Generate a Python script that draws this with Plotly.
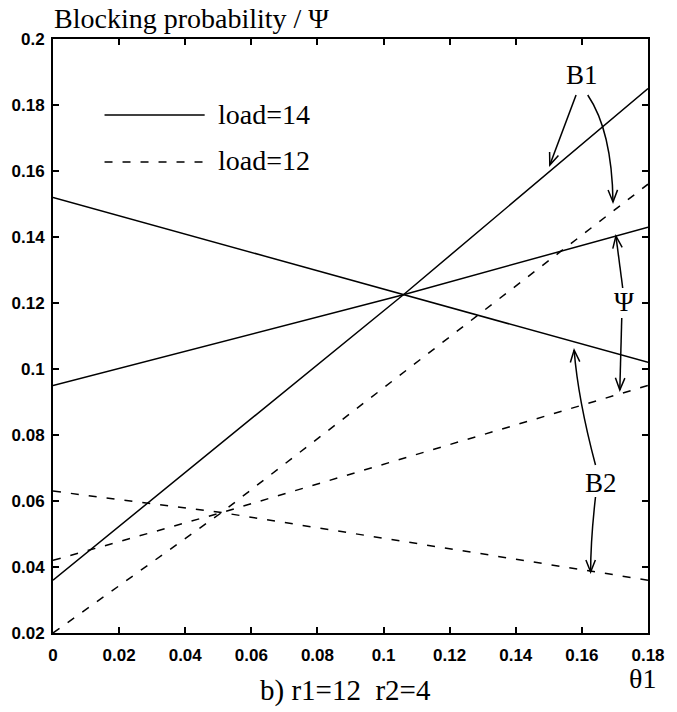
import math
import plotly.graph_objects as go

# ---- data ----
theta_14 = [0.0, 0.106, 0.18]
b1_14 = [0.036, 0.1225, 0.185]
b2_14 = [0.152, 0.1225, 0.102]
psi_14 = [0.095, 0.1225, 0.143]

theta_12 = [0.0, 0.051, 0.18]
b1_12 = [0.020, 0.0565, 0.156]
b2_12 = [0.063, 0.0565, 0.036]
psi_12 = [0.042, 0.0565, 0.095]

x_ticks = [0, 0.02, 0.04, 0.06, 0.08, 0.1, 0.12, 0.14, 0.16, 0.18]
x_ticktext = ["0", "0.02", "0.04", "0.06", "0.08", "0.1", "0.12", "0.14", "0.16", "0.18"]
y_ticks = [0.02, 0.04, 0.06, 0.08, 0.1, 0.12, 0.14, 0.16, 0.18, 0.2]
y_ticktext = ["0.02", "0.04", "0.06", "0.08", "0.1", "0.12", "0.14", "0.16", "0.18", "0.2"]

# ---- layout geometry ----
W, H = 677, 712
ML, MR, MT, MB = 44, 21, 39, 79
PW, PH = W - ML - MR, H - MT - MB
SERIF = "Liberation Serif, Times New Roman, serif"
SANS = "Liberation Sans, Arial, sans-serif"


def paper(px, py):
    return (px - ML) / PW, (H - MB - py) / PH


fig = go.Figure()
solid = dict(color="black", width=1.5)
dashed = dict(color="black", width=1.5, dash="8px,10px")
for ys in (b1_14, b2_14, psi_14):
    fig.add_trace(go.Scatter(x=theta_14, y=ys, mode="lines", line=solid,
                             name="load=14", showlegend=False))
for ys in (b1_12, b2_12, psi_12):
    fig.add_trace(go.Scatter(x=theta_12, y=ys, mode="lines", line=dashed,
                             name="load=12", showlegend=False))

shapes = []
annotations = []


def text(s, px, py, size=26, xanchor="center", font=SERIF):
    x, y = paper(px, py)
    annotations.append(dict(text=s, x=x, y=y, xref="paper", yref="paper",
                            xanchor=xanchor, yanchor="middle", showarrow=False,
                            borderpad=0,
                            font=dict(family=font, size=size, color="black")))


def seg_path(points):
    s = ""
    for i, (px, py) in enumerate(points):
        x, y = paper(px, py)
        s += ("M" if i == 0 else " L") + f" {x:.5f},{y:.5f}"
    return s


def curve(p0, c, p1):
    x0, y0 = paper(*p0)
    cx, cy = paper(*c)
    x1, y1 = paper(*p1)
    shapes.append(dict(type="path", xref="paper", yref="paper",
                       path=f"M {x0:.5f},{y0:.5f} Q {cx:.5f},{cy:.5f} {x1:.5f},{y1:.5f}",
                       line=dict(color="black", width=1.5)))


def line(p0, p1):
    shapes.append(dict(type="path", xref="paper", yref="paper",
                       path=seg_path([p0, p1]), line=dict(color="black", width=1.5)))


def vhead(head, frm, length=13, ang=22):
    dx, dy = head[0] - frm[0], head[1] - frm[1]
    n = math.hypot(dx, dy)
    ux, uy = dx / n, dy / n
    pts = []
    for sgn in (1, -1):
        a = math.radians(sgn * ang)
        rx = ux * math.cos(a) - uy * math.sin(a)
        ry = ux * math.sin(a) + uy * math.cos(a)
        pts.append((head[0] - rx * length, head[1] - ry * length))
    shapes.append(dict(type="path", xref="paper", yref="paper",
                       path=seg_path([pts[0], head, pts[1]]),
                       line=dict(color="black", width=1.5)))


# B1 annotation
text("B1", 588, 75, size=27)
line((582, 95), (555, 165)); vhead((555, 165), (582, 95))
curve((594, 95), (619, 131), (620, 202)); vhead((620, 202), (619, 140))
# Psi annotation
text("Ψ", 631, 302, size=27)
line((630, 288), (623, 236)); vhead((623, 236), (630, 288))
line((629, 318), (627, 390)); vhead((627, 390), (629, 318))
# B2 annotation
text("B2", 608, 483, size=27)
curve((602, 465), (584, 399), (580, 350)); vhead((580, 350), (584, 399))
curve((602, 497), (597, 540), (597, 572)); vhead((597, 572), (597, 540))

# legend drawn by hand
for py, dash in ((115, "solid"), (162, "8px,10px")):
    x0, y0 = paper(97, py)
    x1, _ = paper(200, py)
    shapes.append(dict(type="line", xref="paper", yref="paper", x0=x0, x1=x1, y0=y0, y1=y0,
                       line=dict(color="black", width=1.5, dash=dash)))
text("load=14", 213, 114, size=28, xanchor="left")
text("load=12", 213, 161, size=28, xanchor="left")

# titles
text("Blocking probability / Ψ", 44, 19, size=28, xanchor="left")
text("θ1", 650, 678, size=28)
text("b) r1=12  r2=4", 345, 690, size=29)

axis_common = dict(showline=True, linecolor="black", linewidth=2, mirror="ticks",
                   ticks="inside", ticklen=6, tickwidth=1.5, tickcolor="black",
                   showgrid=False, zeroline=False,
                   tickfont=dict(family=SANS, size=17, color="black", weight="bold"))
fig.update_layout(
    width=W, height=H,
    margin=dict(l=ML, r=MR, t=MT, b=MB, pad=0),
    paper_bgcolor="white", plot_bgcolor="white",
    xaxis=dict(range=[0, 0.18], tickvals=x_ticks, ticktext=x_ticktext,
               ticklabelstandoff=6, **axis_common),
    yaxis=dict(range=[0.02, 0.2], tickvals=y_ticks, ticktext=y_ticktext,
               ticklabelstandoff=3, **axis_common),
    shapes=shapes, annotations=annotations, showlegend=False,
)
fig.write_html("out.html")
